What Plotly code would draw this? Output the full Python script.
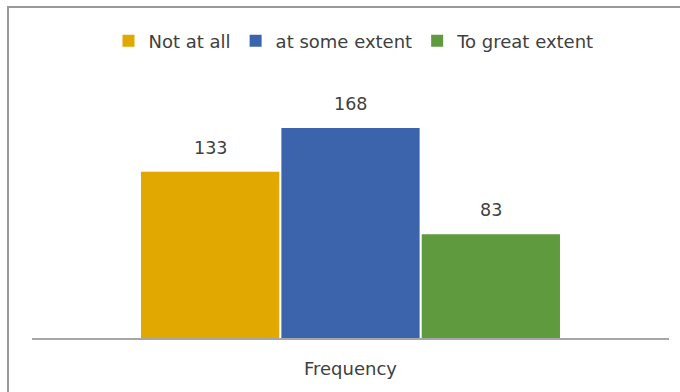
import plotly.graph_objects as go

# Survey responses, one category on the x axis
category = ["Frequency"]
series_names = ["Not at all", "at some extent", "To great extent"]
series_values = [133, 168, 83]
series_colors = ["#E0A800", "#3B64AD", "#5F9A3E"]

text_color = "#404040"
font_family = "DejaVu Sans"

bargap = 0.339
bargroupgap = 0.015

fig = go.Figure()
for name, val, col in zip(series_names, series_values, series_colors):
    fig.add_trace(go.Bar(
        x=category, y=[val], name=name,
        marker=dict(color=col, line=dict(width=0)),
        hoverinfo="name+y",
    ))

# Value labels above each bar in the group
slot = (1 - bargap) / len(series_values)
for i, val in enumerate(series_values):
    offset = (i - (len(series_values) - 1) / 2) * slot
    fig.add_annotation(
        x=offset, y=val, xref="x", yref="y",
        text=str(val), showarrow=False,
        yanchor="bottom", yshift=12,
        font=dict(family=font_family, size=17.5, color=text_color),
    )

# Outer chart frame
fig.add_shape(
    type="rect", xref="paper", yref="paper",
    x0=-0.0377, x1=1.05, y0=-0.3, y1=1.324,
    line=dict(color="#9A9A9A", width=2), layer="above",
)

fig.update_layout(
    width=680, height=392,
    margin=dict(l=32, r=11, t=88, b=54),
    paper_bgcolor="white", plot_bgcolor="white",
    barmode="group", bargap=bargap, bargroupgap=bargroupgap,
    font=dict(family=font_family, size=17, color=text_color),
    showlegend=True,
    legend=dict(
        orientation="h", x=0.5055, xanchor="center",
        y=1.188, yanchor="middle",
        font=dict(family=font_family, size=18, color=text_color),
        itemwidth=30, traceorder="normal",
    ),
    xaxis=dict(
        type="category", showline=True, linecolor="#A6A6A6", linewidth=1.5,
        showgrid=False, zeroline=False, ticks="",
        ticklabelstandoff=14, fixedrange=True,
        tickfont=dict(family=font_family, size=18, color=text_color),
    ),
    yaxis=dict(
        range=[0, 200], visible=False, showgrid=False, zeroline=False,
        fixedrange=True,
    ),
)

fig.write_html("out.html")
